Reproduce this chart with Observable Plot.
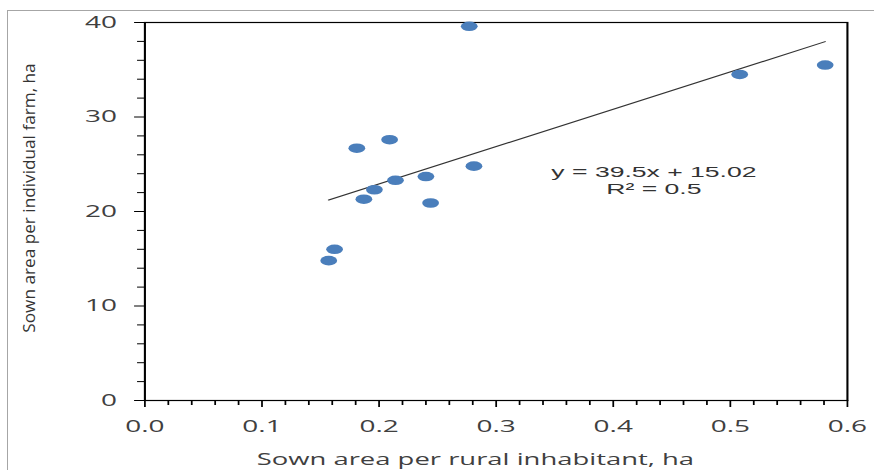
<!DOCTYPE html>
<html>
<head>
<meta charset="utf-8">
<script src="https://cdn.jsdelivr.net/npm/d3@7"></script>
<script src="https://cdn.jsdelivr.net/npm/@observablehq/plot@0.6"></script>
<style>
  html, body { margin: 0; padding: 0; background: #fff; overflow: hidden; }
  #wrap { position: relative; width: 874px; height: 470px; overflow: hidden; }
  #border { position: absolute; left: 7px; top: 10px; width: 900px; height: 500px;
            border-left: 1.5px solid #a6a6a6; border-top: 1.5px solid #a6a6a6; pointer-events: none; }
  #wrap svg { position: absolute; left: 0; top: 0; }
</style>
</head>
<body>
<div id="wrap"></div>
<script>
// ---- data ----
const xValues = [0.157, 0.162, 0.187, 0.181, 0.196, 0.209, 0.214, 0.240, 0.244, 0.277, 0.281, 0.508, 0.581];
const yValues = [14.8, 16.0, 21.3, 26.7, 22.3, 27.6, 23.3, 23.7, 20.9, 39.6, 24.8, 34.5, 35.5];

const xMajorTicks = [0, 0.1, 0.2, 0.3, 0.4, 0.5, 0.6];
const xTickLabels = ["0.0", "0.1", "0.2", "0.3", "0.4", "0.5", "0.6"];
const xMinorTicks = [0.02, 0.04, 0.06, 0.08, 0.12, 0.14, 0.16, 0.18, 0.22, 0.24, 0.26, 0.28,
                     0.32, 0.34, 0.36, 0.38, 0.42, 0.44, 0.46, 0.48, 0.52, 0.54, 0.56, 0.58];
const yMajorTicks = [0, 10, 20, 30, 40];
const yTickLabels = ["0", "10", "20", "30", "40"];
const yMinorTicks = [2, 4, 6, 8, 12, 14, 16, 18, 22, 24, 26, 28, 32, 34, 36, 38];

const trendSlope = 39.5;
const trendIntercept = 15.02;
const equationLines = ["y = 39.5x + 15.02", "R\u00B2 = 0.5"];
const xLabel = "Sown area per rural inhabitant, ha";
const yLabel = "Sown area per individual farm, ha";

// ---- layout ----
const W = 500, H = 470;          // drawn, then stretched horizontally to 874px like the reference
const K = 874 / W;
const ink = "#404040";
const font = "'Open Sans', 'DejaVu Sans', sans-serif";

const points = xValues.map((x, i) => ({x, y: yValues[i]}));
const trend = d3.extent(xValues).map(x => ({x, y: trendSlope * x + trendIntercept}));

const svg = Plot.plot({
  width: W,
  height: H,
  marginLeft: 82.4,
  marginRight: 15.7,
  marginTop: 22,
  marginBottom: 70,
  style: {fontFamily: font, fontSize: "16px", color: ink, background: "transparent", overflow: "visible"},
  x: {domain: [0, 0.6]},
  y: {domain: [0, 40]},
  marks: [
    Plot.axisY(yMinorTicks, {tickSize: 4, tickFormat: () => "", label: null, stroke: "#000"}),
    Plot.axisY(yMajorTicks, {tickSize: 5.7, tickPadding: 10.3, label: null, stroke: "#000", fill: ink, fontSize: 16,
                             tickFormat: d => yTickLabels[yMajorTicks.indexOf(d)]}),
    Plot.axisX(xMinorTicks, {tickSize: 5, tickFormat: () => "", label: null, stroke: "#000"}),
    Plot.axisX(xMajorTicks, {tickSize: 7, tickPadding: 12.7, label: null, stroke: "#000", fill: ink, fontSize: 16,
                             tickFormat: d => xTickLabels[xMajorTicks.indexOf(d)]}),
    Plot.frame({stroke: "#000", strokeWidth: 1.2}),
    Plot.line(trend, {x: "x", y: "y", stroke: "#333", strokeWidth: 1}),
    Plot.dot(points, {x: "x", y: "y", r: 4.8, fill: "#4A7EBB", stroke: "none"}),
    Plot.text([equationLines.join("\n")], {text: d => d, frameAnchor: "top-right", dx: -110.7, dy: 171.5,
      textAnchor: "middle", lineAnchor: "bottom", lineHeight: 17.2 / 15.2, fontSize: 15.2,
      fontFamily: "'Liberation Sans', Arial, sans-serif", fill: "#333"}),
    Plot.text([xLabel], {text: d => d, frameAnchor: "bottom", dx: -11.9, dy: 64,
      textAnchor: "middle", lineAnchor: "bottom", fontSize: 15.7, fill: ink}),
    Plot.text([yLabel], {text: d => d, frameAnchor: "left", dx: -62.8, dy: -13.5, rotate: -90,
      textAnchor: "middle", lineAnchor: "bottom", fontSize: 17.2, fill: "#333"})
  ]
});

// stretch horizontally as in the reference picture
svg.setAttribute("width", 874);
svg.setAttribute("height", 470);
svg.setAttribute("viewBox", `0 0 ${W} ${H}`);
svg.setAttribute("preserveAspectRatio", "none");
svg.style.width = "874px";
svg.style.height = "470px";
svg.style.maxWidth = "none";

// the vertical title is not widened in the reference: counter-scale its glyph thickness
d3.select(svg).selectAll("text")
  .filter(function () { return this.textContent === yLabel; })
  .each(function () {
    const t = this.getAttribute("transform") || "";
    this.setAttribute("transform", t + ` scale(1,${(0.98 / K).toFixed(4)})`);
  });

const wrap = document.getElementById("wrap");
wrap.appendChild(svg);
const border = document.createElement("div");
border.id = "border";
wrap.appendChild(border);
</script>
</body>
</html>
